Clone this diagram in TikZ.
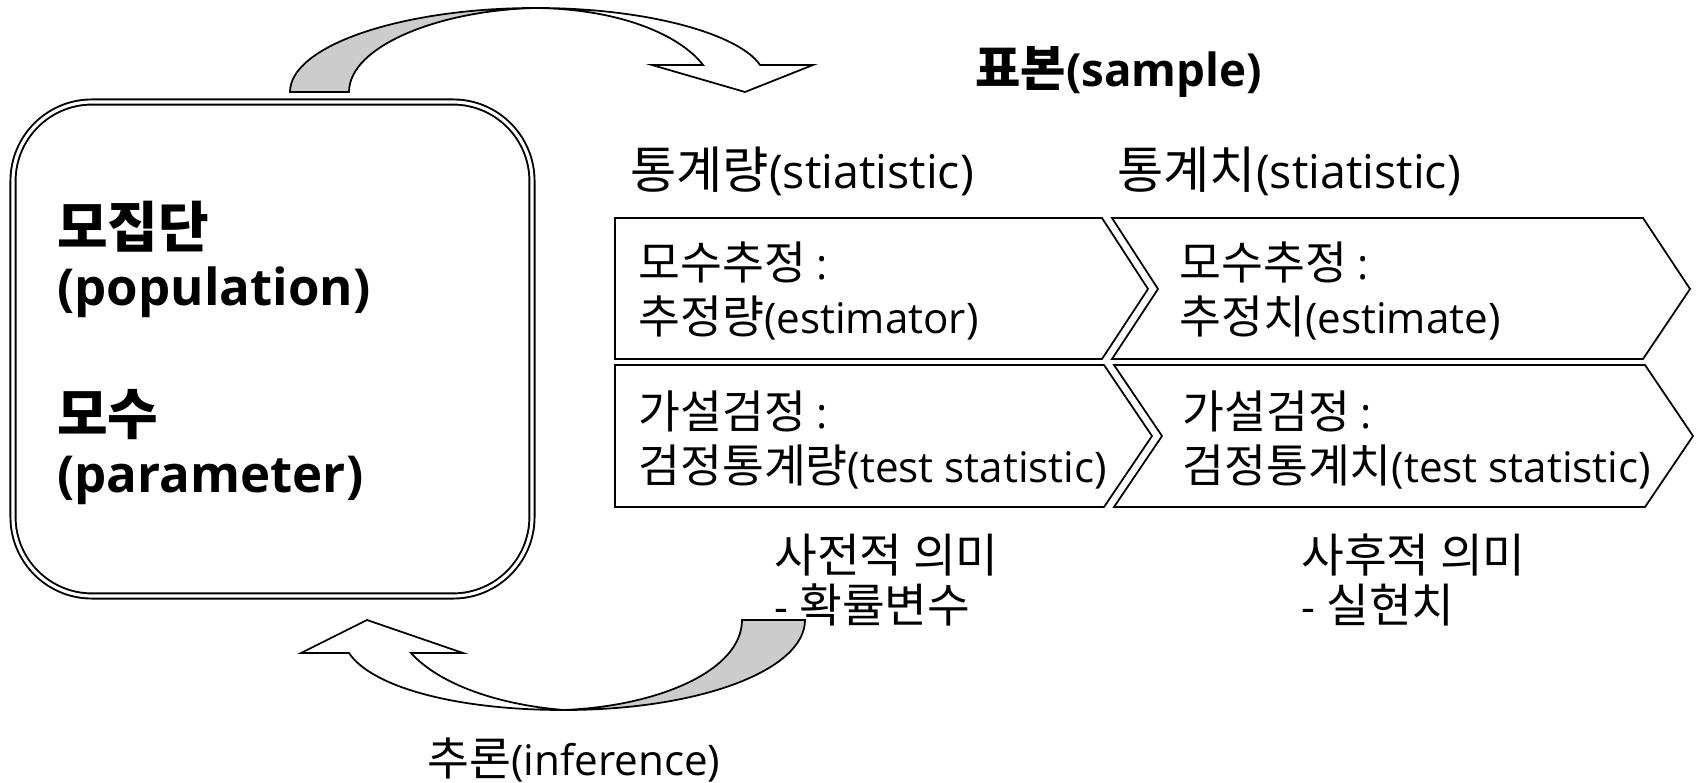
\documentclass[tikz,border=0pt]{standalone}
\usepackage{fontspec}
\setmainfont{Open Sans}
\newfontfamily\hanfont[Scale=1.08]{Noto Sans CJK KR}
\newcommand{\han}[1]{{\hanfont #1}}
\tikzset{
	panel/.style={draw=black, line width=1pt, fill=white},
	curl/.style={draw=black, line width=1pt},
	lbl/.style={font=\fontsize{24}{31}\selectfont, align=left, inner sep=0pt},
	note/.style={font=\fontsize{24.5}{28}\selectfont, align=left, inner sep=0pt},
	title/.style={font=\fontsize{26.5}{31}\selectfont, inner sep=0pt},
	head/.style={font=\bfseries\fontsize{26}{36}\selectfont, align=left, inner sep=0pt}
}
\begin{document}
\begin{tikzpicture}[x=0.02cm, y=-0.02cm]
	\useasboundingbox (0,0) rectangle (1696,783);
	\draw[line width=1.1pt, double, double distance=1.8pt, rounded corners=45pt] (13,102) rectangle (532,596);
	\node[head, font=\bfseries\fontsize{29}{33}\selectfont, anchor=west] (pop) at (57,353) {\han{모집단}\\(population)\\[40pt]\han{모수}\\(parameter)};
	\filldraw[curl, fill=gray!40] (290,92) .. controls (290,46) and (401,8) .. (536,8) .. controls (440,10) and (349,46) .. (349,92) -- cycle;
	\filldraw[curl, fill=white] (536,8) .. controls (650,8) and (740,35) .. (760,65) -- (813,65) -- (745,92) -- (652,65) -- (703,65) .. controls (680,35) and (620,9) .. (536,8) -- cycle;
	\filldraw[curl, fill=gray!40] (805,620) .. controls (805,670) and (700,710) .. (564,710) .. controls (660,706) and (742,670) .. (742,620) -- cycle;
	\filldraw[curl, fill=white] (564,710) .. controls (450,710) and (370,685) .. (349,653) -- (301,653) -- (367,620) -- (463,653) -- (411,653) .. controls (440,685) and (500,705) .. (564,710) -- cycle;
	\node[head, anchor=west] (smp) at (975,72) {\han{표본}(sample)};
	\node[title, anchor=west] (stat) at (630,171) {\han{통계량}(stiatistic)};
	\node[title, anchor=west] (val) at (1117,171) {\han{통계치}(stiatistic)};
	\draw[panel] (615,218) -- (1102,218) -- (1148,289) -- (1102,359) -- (615,359) -- cycle;
	\draw[panel] (1112,218) -- (1643,218) -- (1690,289) -- (1643,359) -- (1112,359) -- (1158,289) -- cycle;
	\draw[panel] (615,365) -- (1104,365) -- (1152,436) -- (1104,507) -- (615,507) -- cycle;
	\draw[panel] (1114,365) -- (1645,365) -- (1693,436) -- (1645,507) -- (1114,507) -- (1162,436) -- cycle;
	\node[lbl, anchor=west] (est) at (638,291) {\han{모수추정} :\\\han{추정량}(estimator)};
	\node[lbl, anchor=west] (estv) at (1179,291) {\han{모수추정} :\\\han{추정치}(estimate)};
	\node[lbl, anchor=west] (tst) at (638,440) {\han{가설검정} :\\\han{검정통계량}(test statistic)};
	\node[lbl, anchor=west] (tstv) at (1182,440) {\han{가설검정} :\\\han{검정통계치}(test statistic)};
	\node[note, anchor=west] (pre) at (774,580) {\han{사전적 의미}\\- \han{확률변수}};
	\node[note, anchor=west] (post) at (1301,580) {\han{사후적 의미}\\- \han{실현치}};
	\node[lbl] (inf) at (574,760) {\han{추론}(inference)};
\end{tikzpicture}
\end{document}
